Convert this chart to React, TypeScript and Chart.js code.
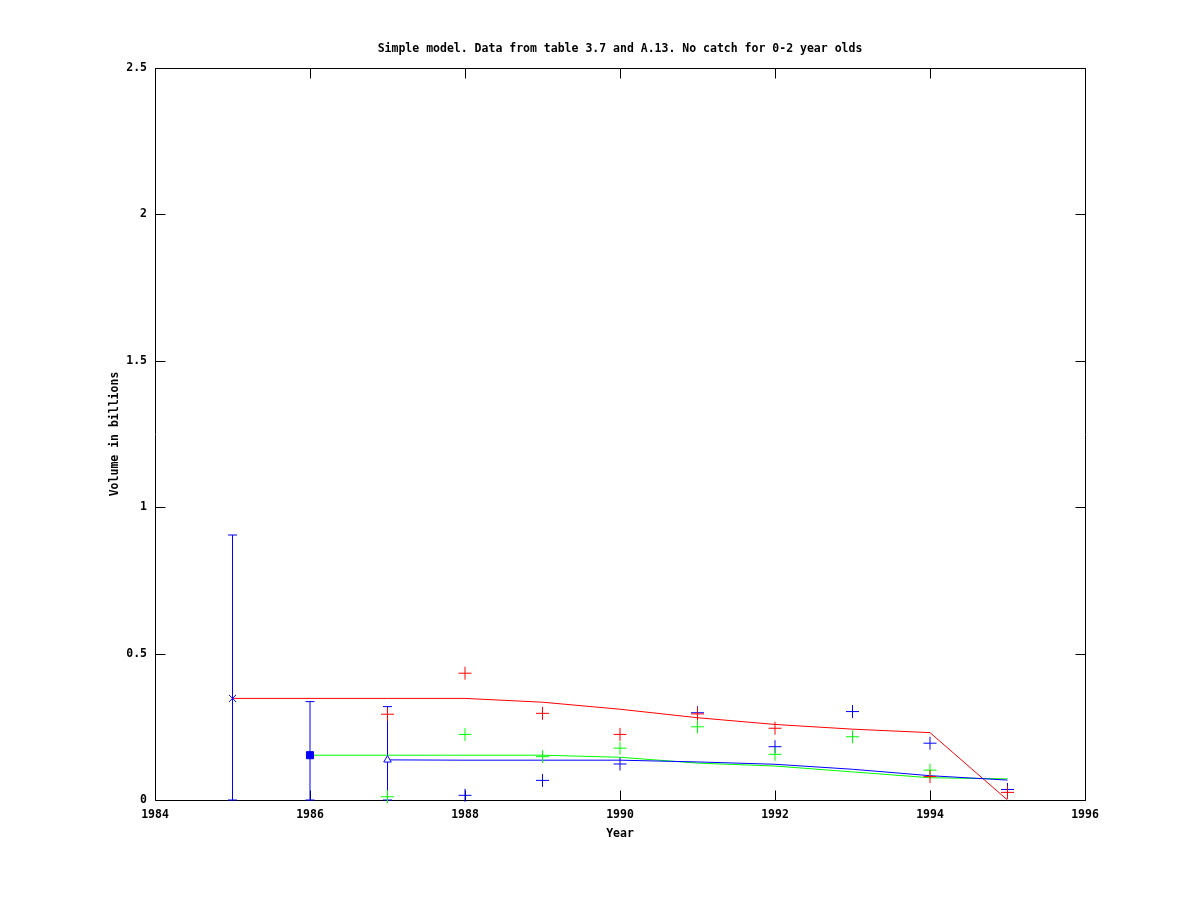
import { useEffect, useRef } from 'react';
import { Chart, registerables } from 'chart.js';

Chart.register(...registerables);

// ---- data ----
const xTickYears = [1984, 1986, 1988, 1990, 1992, 1994, 1996];
const yTickValues = [0, 0.5, 1, 1.5, 2, 2.5];

const redModelYears = [1985, 1986, 1987, 1988, 1989, 1990, 1991, 1992, 1993, 1994, 1995];
const redModel = [0.347, 0.347, 0.347, 0.347, 0.334, 0.31, 0.281, 0.258, 0.242, 0.23, 0.0];

const greenModelYears = [1986, 1987, 1988, 1989, 1990, 1991, 1992, 1993, 1994, 1995];
const greenModel = [0.153, 0.153, 0.153, 0.153, 0.146, 0.126, 0.116, 0.096, 0.076, 0.072];

const blueModelYears = [1987, 1988, 1989, 1990, 1991, 1992, 1993, 1994, 1995];
const blueModel = [0.137, 0.136, 0.136, 0.136, 0.13, 0.122, 0.105, 0.083, 0.068];

const redObsYears = [1987, 1988, 1989, 1990, 1991, 1992, 1994, 1995];
const redObs = [0.293, 0.433, 0.296, 0.224, 0.294, 0.245, 0.08, 0.026];

const greenObsYears = [1987, 1988, 1989, 1990, 1991, 1992, 1993, 1994];
const greenObs = [0.011, 0.224, 0.148, 0.177, 0.25, 0.156, 0.216, 0.102];

const blueObsYears = [1988, 1989, 1990, 1991, 1992, 1993, 1994, 1995];
const blueObs = [0.016, 0.067, 0.123, 0.298, 0.182, 0.302, 0.194, 0.036];

const errYears = [1985, 1986, 1987];
const errCenter = [0.347, 0.153, 0.137];
const errLow = [0, 0, 0];
const errHigh = [0.905, 0.336, 0.319];
const errMarkers = ['crossRot', 'rect', 'triangle'];

const titleText = 'Simple model. Data from table 3.7 and A.13. No catch for 0-2 year olds';
const xTitle = 'Year';
const yTitle = 'Volume in billions';

const RED = '#ff0000';
const GREEN = '#00ff00';
const BLUE = '#0000ff';
const FONT_FAMILY = '"DejaVu Sans Mono", "Liberation Mono", monospace';

const pts = (xs: number[], ys: number[]) => xs.map((x, i) => ({ x, y: ys[i] }));

const framePlugin = {
  id: 'gnuframe',
  beforeDatasetsDraw(chart: any) {
    const { ctx, chartArea: a, scales } = chart;
    const L = Math.round(a.left) + 0.5;
    const R = Math.round(a.right) + 0.5;
    const T = Math.round(a.top) + 0.5;
    const B = Math.round(a.bottom) + 0.5;
    const tl = 10;
    ctx.save();
    ctx.strokeStyle = '#000';
    ctx.lineWidth = 1;
    ctx.beginPath();
    ctx.rect(L, T, R - L, B - T);
    for (const v of xTickYears) {
      const px = Math.round(scales.x.getPixelForValue(v)) + 0.5;
      ctx.moveTo(px, B);
      ctx.lineTo(px, B - tl);
      ctx.moveTo(px, T);
      ctx.lineTo(px, T + tl);
    }
    for (const v of yTickValues) {
      const py = Math.round(scales.y.getPixelForValue(v)) + 0.5;
      ctx.moveTo(L, py);
      ctx.lineTo(L + tl, py);
      ctx.moveTo(R, py);
      ctx.lineTo(R - tl, py);
    }
    ctx.stroke();
    ctx.restore();
  },
  afterDraw(chart: any) {
    const { ctx, chartArea: a } = chart;
    const cx = (a.left + a.right) / 2;
    const cy = (a.top + a.bottom) / 2;
    ctx.save();
    ctx.fillStyle = '#000';
    ctx.font = `bold 11.5px ${FONT_FAMILY}`;
    ctx.textAlign = 'center';
    ctx.textBaseline = 'middle';
    ctx.fillText(titleText, cx, 49);
    ctx.fillText(xTitle, cx, 834);
    ctx.translate(115, cy);
    ctx.rotate(-Math.PI / 2);
    ctx.fillText(yTitle, 0, 0);
    ctx.restore();
  },
};

export default function App() {
  const ref = useRef<HTMLCanvasElement>(null);
  useEffect(() => {
    document.body.style.margin = '0';
    const tickFont = { family: FONT_FAMILY, size: 11.5, weight: 'bold' as const };

    const errDatasets = errYears.map((yr, i) => ({
      type: 'line' as const,
      label: `err${yr}`,
      data: [{ x: yr, y: errLow[i] }, { x: yr, y: errHigh[i] }],
      borderColor: BLUE,
      backgroundColor: BLUE,
      borderWidth: 1,
      showLine: true,
      pointStyle: 'line' as const,
      pointRadius: 4.5,
      pointBorderWidth: 1,
      clip: false as any,
      order: 5,
    }));

    const chart = new Chart(ref.current!, {
      type: 'scatter',
      data: {
        datasets: [
          {
            type: 'line',
            label: 'model red',
            data: pts(redModelYears, redModel),
            borderColor: RED,
            borderWidth: 1,
            pointRadius: 0,
            showLine: true,
            clip: false as any,
            order: 4,
          },
          {
            type: 'line',
            label: 'model green',
            data: pts(greenModelYears, greenModel),
            borderColor: GREEN,
            borderWidth: 1,
            pointRadius: 0,
            showLine: true,
            clip: false as any,
            order: 3,
          },
          {
            type: 'line',
            label: 'model blue',
            data: pts(blueModelYears, blueModel),
            borderColor: BLUE,
            borderWidth: 1,
            pointRadius: 0,
            showLine: true,
            clip: false as any,
            order: 2,
          },
          ...errDatasets,
          {
            label: 'estimate',
            data: pts(errYears, errCenter),
            pointStyle: errMarkers as any,
            pointRadius: [5, 5, 4.3],
            borderColor: BLUE,
            backgroundColor: [BLUE, BLUE, '#ffffff'],
            pointBorderWidth: 1,
            clip: false as any,
            order: 1,
          },
          {
            label: 'obs red',
            data: pts(redObsYears, redObs),
            pointStyle: 'cross',
            pointRadius: 6.5,
            borderColor: RED,
            pointBorderWidth: 1,
            clip: false as any,
            order: 0,
          },
          {
            label: 'obs green',
            data: pts(greenObsYears, greenObs),
            pointStyle: 'cross',
            pointRadius: 6.5,
            borderColor: GREEN,
            pointBorderWidth: 1,
            clip: false as any,
            order: 0,
          },
          {
            label: 'obs blue',
            data: pts(blueObsYears, blueObs),
            pointStyle: 'cross',
            pointRadius: 6.5,
            borderColor: BLUE,
            pointBorderWidth: 1,
            clip: false as any,
            order: 0,
          },
        ] as any,
      },
      options: {
        responsive: false,
        animation: false,
        layout: { padding: { left: 0, top: 68, right: 115, bottom: 0 } },
        plugins: {
          legend: { display: false },
          tooltip: { enabled: false },
          title: { display: false },
        },
        scales: {
          x: {
            type: 'linear',
            min: 1984,
            max: 1996,
            grid: { display: false, drawTicks: false },
            border: { display: false },
            ticks: {
              stepSize: 2,
              autoSkip: false,
              maxRotation: 0,
              padding: 8,
              color: '#000',
              font: tickFont,
              callback: (v: any) => String(v),
            },
            afterFit: (s: any) => {
              s.height = 100;
            },
          },
          y: {
            type: 'linear',
            min: 0,
            max: 2.5,
            grid: { display: false, drawTicks: false },
            border: { display: false },
            ticks: {
              stepSize: 0.5,
              padding: 8,
              color: '#000',
              font: tickFont,
              callback: (v: any) => String(v),
            },
            afterFit: (s: any) => {
              s.width = 155;
            },
          },
        },
      },
      plugins: [framePlugin],
    });
    return () => chart.destroy();
  }, []);
  return (
    <div style={{ width: 1200, height: 900 }}>
      <canvas ref={ref} width={1200} height={900} style={{ display: 'block' }} />
    </div>
  );
}
